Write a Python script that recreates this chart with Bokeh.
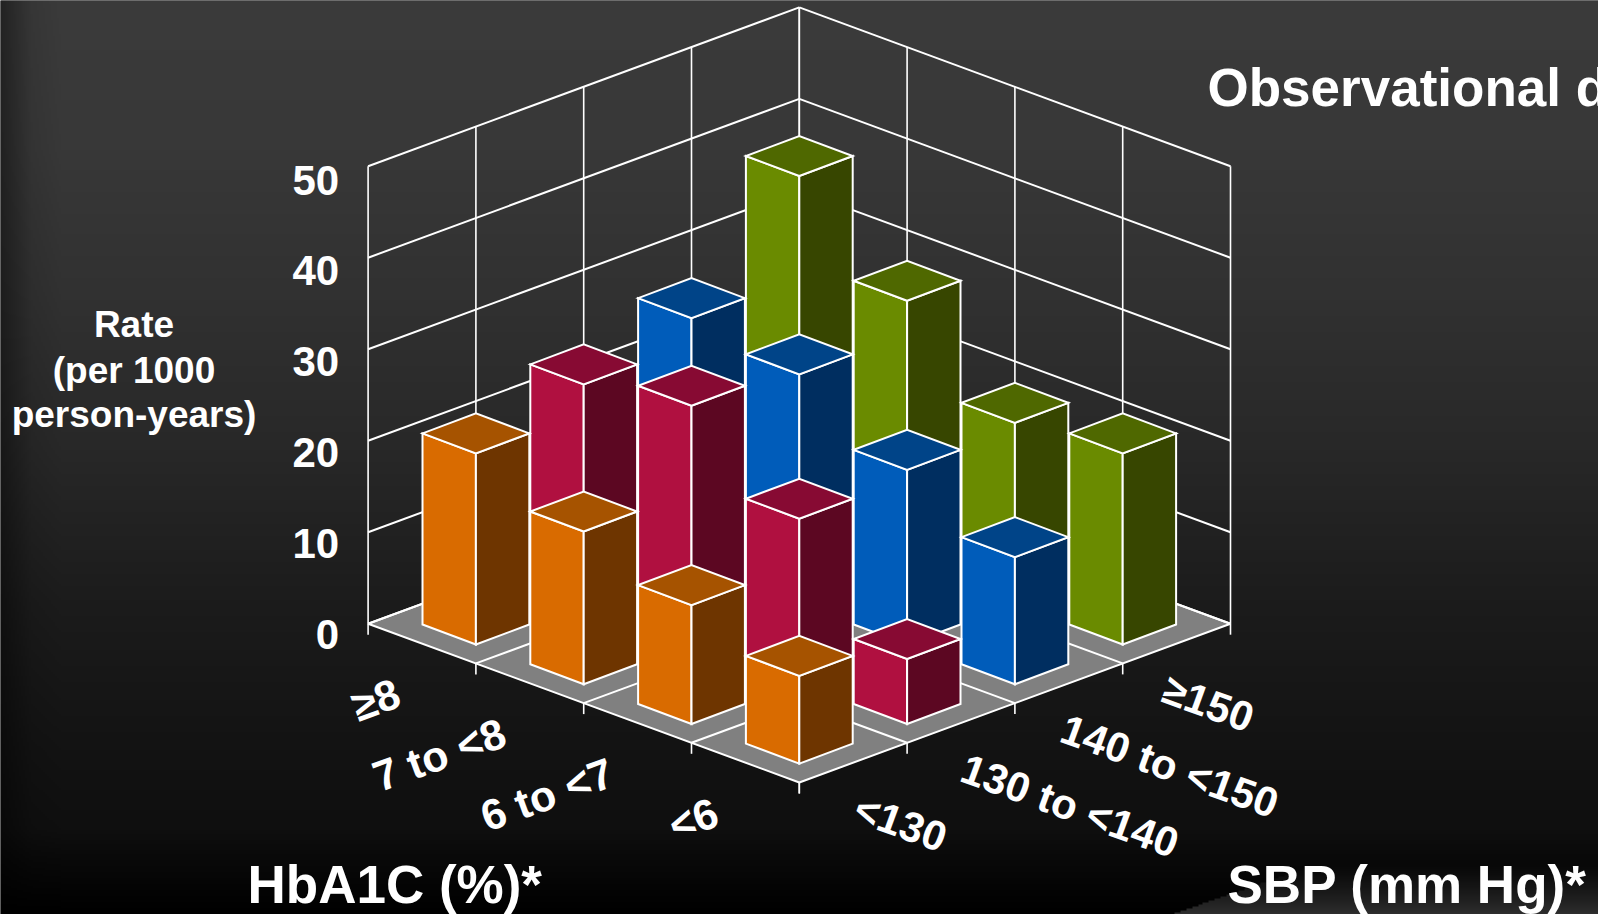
import numpy as np
from bokeh.core.properties import value
from bokeh.embed import file_html
from bokeh.models import Range1d
from bokeh.plotting import figure
from bokeh.resources import INLINE

# Incidence rate per 1000 person-years, listed from HbA1C <6 up to >=8
hba1c_labels = ["<6", "6 to <7", "7 to <8", "≥8"]
sbp_labels = ["<130", "130 to <140", "140 to <150", "≥150"]
rate_sbp_lt130 = [9.5, 12.9, 16.6, 20.8]
rate_sbp_130_140 = [7.0, 18.0, 26.0, 24.0]
rate_sbp_140_150 = [13.8, 19.0, 25.1, 26.9]
rate_sbp_ge150 = [20.8, 19.8, 28.8, 38.1]
rate_ticks = [0, 10, 20, 30, 40, 50]

WIDTH, HEIGHT = 1598, 914
FONT = value("Liberation Sans")

# Oblique projection of the (HbA1C, SBP, rate) box onto the page
FRONT_X, FRONT_Y = 798.8, HEIGHT - 782.0
STEP_X, STEP_Y = 107.8, 39.7
RISE = 9.15
BAR_DX, BAR_DY = 53.4, 20.0
BAR_SINK = 0.85
BASELINE_SHIFT = 0.35
N = 4


def project(u, v, z=0.0):
    return FRONT_X + STEP_X * (v - u), FRONT_Y + STEP_Y * (u + v) + RISE * z


def background():
    rows = np.arange(HEIGHT // 2) * 2.0
    cols = np.arange(WIDTH // 2) * 2.0
    depth = HEIGHT - rows
    stops_y = [0, 150, 300, 450, 600, 750, 830, 860, 914]
    stops_v = [59, 56, 49, 40, 28, 19, 15, 9, 0]
    shade = np.interp(depth, stops_y, stops_v)
    grid = np.tile(shade[:, None], (1, cols.size))
    grid *= np.interp(cols, [0, 30, 60], [0.6, 0.92, 1.0])[None, :]
    # lighter swoosh in the lower right corner
    yy = HEIGHT - rows[:, None]
    xx = cols[None, :]
    inside = yy > 914 - 0.345 * (xx - 1173)
    swoosh = 46 * np.clip((yy - 830) / 84, 0, 1) ** 2
    grid = np.where(inside, np.maximum(grid, swoosh), grid)
    v = grid.astype(np.uint32)
    return (255 << 24) | (v << 16) | (v << 8) | v


p = figure(
    width=WIDTH, height=HEIGHT, output_backend="svg", toolbar_location=None,
    x_range=Range1d(0, WIDTH), y_range=Range1d(0, HEIGHT), min_border=0,
    x_axis_location=None, y_axis_location=None, outline_line_color=None,
    background_fill_color="#000000", border_fill_color="#000000",
)
p.grid.visible = False
p.image_rgba(image=[background()], x=0, y=0, dw=WIDTH, dh=HEIGHT)

# Floor
corners = [project(0, 0), project(N, 0), project(N, N), project(0, N)]
p.patch([c[0] for c in corners], [c[1] for c in corners],
        fill_color="#808080", line_color="#ffffff", line_width=2)

# Slanted rules: wall gridlines and floor divisions
xs, ys = [], []
for z in rate_ticks:
    for a, b in [(project(N, 0, z), project(N, N, z)), (project(N, N, z), project(0, N, z))]:
        xs.append([a[0], b[0]])
        ys.append([a[1], b[1]])
for i in range(1, N):
    for a, b in [(project(i, 0), project(i, N)), (project(0, i), project(N, i))]:
        xs.append([a[0], b[0]])
        ys.append([a[1], b[1]])
p.multi_line(xs, ys, line_color="#ffffff", line_width=2)

# Upright rules: wall verticals and the tick marks under the floor edges
xs, ys = [], []
for i in range(N + 1):
    for a, b in [(project(N, i, 0), project(N, i, 50)), (project(i, N, 0), project(i, N, 50))]:
        xs.append([a[0], b[0]])
        ys.append([a[1], b[1]])
    for a in (project(i, 0), project(0, i)):
        xs.append([a[0], a[0]])
        ys.append([a[1], a[1] - 11])
p.multi_line(xs, ys, line_color="#ffffff", line_width=1.6)

# Bars painted from the back corner towards the viewer
series = [
    (rate_sbp_lt130, "#D96B00", "#6E3500", "#A65300"),
    (rate_sbp_130_140, "#B01040", "#5C0722", "#870A33"),
    (rate_sbp_140_150, "#005CBA", "#002E60", "#004488"),
    (rate_sbp_ge150, "#6A8B00", "#374600", "#4F6800"),
]
bars = sorted(
    ((u, v, rates[u], front, side, top)
     for v, (rates, front, side, top) in enumerate(series) for u in range(N)),
    key=lambda b: -(b[0] + b[1]),
)
face_x, face_y, face_c = [], [], []
for u, v, rate, front, side, top in bars:
    cx, cy = project(u + 0.5, v + 0.5)
    cy -= BAR_SINK
    lift = RISE * rate + BAR_SINK
    fy = cy - BAR_DY
    lx, rx = cx - BAR_DX, cx + BAR_DX
    face_x.append([lx, cx, cx, lx])
    face_y.append([cy, fy, fy + lift, cy + lift])
    face_c.append(front)
    face_x.append([cx, rx, rx, cx])
    face_y.append([fy, cy, cy + lift, fy + lift])
    face_c.append(side)
    face_x.append([lx, cx, rx, cx])
    face_y.append([cy + lift, fy + lift, cy + lift, cy + BAR_DY + lift])
    face_c.append(top)
p.patches(face_x, face_y, fill_color=face_c, line_color="#ffffff", line_width=2,
          line_join="miter")


def label(x, y, text, size, align="left", angle=0.0, baseline="alphabetic"):
    if baseline == "alphabetic":
        y += BASELINE_SHIFT * size
    p.text([x], [y], text=[text], text_font=FONT, text_font_style="bold",
           text_font_size=f"{size}px", text_color="#ffffff", text_align=align,
           text_baseline=baseline, angle=angle)


# Rate axis numbers beside the left wall, spaced a little tighter than the gridlines
for z in rate_ticks:
    x, y = project(N, 0, z)
    label(x - 29, y - 25 - 0.07 * z, str(z), 42, align="right")

# Category labels along the two floor edges
tilt = np.radians(20)
hba1c_nudge = [-5, -2, -2, 0]
sbp_nudge = [9, 8, 0, -6]
for i, text in enumerate(hba1c_labels):
    x, y = project(i + 0.5, 0)
    label(x - 24 + hba1c_nudge[i], y - 48, text, 43, align="right", angle=tilt, baseline="middle")
for i, text in enumerate(sbp_labels):
    x, y = project(0, i + 0.5)
    label(x - 6 + sbp_nudge[i], y - 44, text, 42, align="left", angle=-tilt, baseline="middle")

# Axis captions
for text, baseline_y in zip(["Rate", "(per 1000", "person-years)"], [337, 382.7, 426.7]):
    label(133.5, HEIGHT - baseline_y, text, 37, align="center")
label(247, HEIGHT - 902.7, "HbA1C (%)*", 53)
label(1227, HEIGHT - 902.7, "SBP (mm Hg)*", 53)
label(1207, HEIGHT - 105.3, "Observational d", 53)

open("out.html", "w").write(file_html(p, INLINE))
